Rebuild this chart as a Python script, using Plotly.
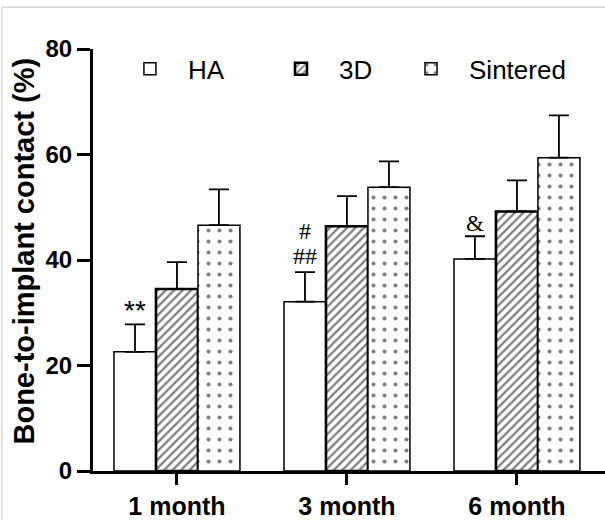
import plotly.graph_objects as go

categories = ["1 month", "3 month", "6 month"]
series_names = ["HA", "3D", "Sintered"]
ha_values = [22.6, 32.1, 40.2]
ha_err = [5.2, 5.6, 4.3]
d3_values = [34.5, 46.4, 49.2]
d3_err = [5.1, 5.7, 5.9]
sint_values = [46.6, 53.8, 59.4]
sint_err = [6.8, 4.9, 8.0]
# significance marks above the HA bars: (group index, label)
annot_groups = [0, 1, 1, 2]
annot_labels = ["**", "#", "##", "&"]
y_ticks = [0, 20, 40, 60, 80]
y_title = "Bone-to-implant contact (%)"

fig = go.Figure()
styles = [
    dict(shape="", line=1.5, size=8, sol=0.2, legend="legend", lx=0.037),
    dict(shape="/", line=2.6, size=6, sol=0.38, legend="legend2", lx=0.332),
    dict(shape=".", line=1.5, size=11, sol=0.11, legend="legend3", lx=0.586),
]
for name, vals, errs, st in zip(series_names,
                                [ha_values, d3_values, sint_values],
                                [ha_err, d3_err, sint_err], styles):
    fig.add_trace(go.Bar(
        x=[0, 1, 2], y=vals, name=name, legend=st["legend"],
        marker=dict(color="white",
                    line=dict(color="black", width=st["line"]),
                    pattern=dict(shape=st["shape"], fgcolor="black", bgcolor="white",
                                 size=st["size"], solidity=st["sol"])),
        error_y=dict(type="data", symmetric=False, array=errs,
                     arrayminus=[0] * len(errs), color="black",
                     thickness=1.8, width=10),
    ))

sans = "Liberation Sans, Arial, sans-serif"
serif = "Liberation Serif, Times New Roman, serif"
ann_style = {
    "**": dict(font=dict(family=sans, size=28, color="black"), yshift=14),
    "#": dict(font=dict(family=serif, size=24, color="black"), yshift=41),
    "##": dict(font=dict(family=serif, size=24, color="black"), yshift=16),
    "&": dict(font=dict(family=serif, size=23, color="black"), yshift=13),
}
for g, lab in zip(annot_groups, annot_labels):
    st = ann_style[lab]
    fig.add_annotation(x=g - 0.247, y=ha_values[g] + ha_err[g], text=lab,
                       showarrow=False, xanchor="center", yanchor="middle",
                       yshift=st["yshift"], font=st["font"])

# y-axis title as a rotated annotation for exact placement
fig.add_annotation(x=-0.1348, y=0.5224, xref="paper", yref="paper", text=y_title,
                   textangle=-90, showarrow=False, xanchor="center", yanchor="middle",
                   font=dict(family=sans, size=29, weight="bold", color="black"))

legend_common = dict(orientation="h", y=0.953, xanchor="left", yanchor="middle",
                     font=dict(size=26, family=sans), bgcolor="rgba(0,0,0,0)",
                     itemwidth=66)

fig.update_layout(
    width=605, height=520,
    margin=dict(l=93, r=0, t=49, b=47),
    paper_bgcolor="white", plot_bgcolor="white",
    barmode="group", bargap=0.259, bargroupgap=0,
    font=dict(family=sans, color="black"),
    showlegend=True,
    legend=dict(x=styles[0]["lx"], **legend_common),
    legend2=dict(x=styles[1]["lx"], **legend_common),
    legend3=dict(x=styles[2]["lx"], **legend_common),
    xaxis=dict(range=[-0.494, 2.518], tickmode="array", tickvals=[0, 1, 2],
               ticktext=categories, showline=True, linecolor="black", linewidth=3,
               ticks="outside", ticklen=11, tickwidth=2.5, tickcolor="black",
               tickfont=dict(size=25, weight="bold"), showgrid=False, zeroline=False),
    yaxis=dict(range=[0, 80], tickvals=y_ticks, showline=True, linecolor="black",
               linewidth=3, ticks="outside", ticklen=13, tickwidth=2.5, tickcolor="black",
               tickfont=dict(size=24, weight="bold"), showgrid=False, zeroline=False),
    shapes=[
        dict(type="line", xref="paper", yref="paper", x0=-0.1777, x1=1.01,
             y0=1.099, y1=1.099, line=dict(color="#c8c8c8", width=1)),
        dict(type="line", xref="paper", yref="paper", x0=-0.1777, x1=-0.1777,
             y0=1.099, y1=-0.2, line=dict(color="#c8c8c8", width=1)),
    ],
)

fig.write_html("out.html", config={"displayModeBar": False},
               post_script="document.body.style.margin='0';document.body.style.overflow='hidden';")
